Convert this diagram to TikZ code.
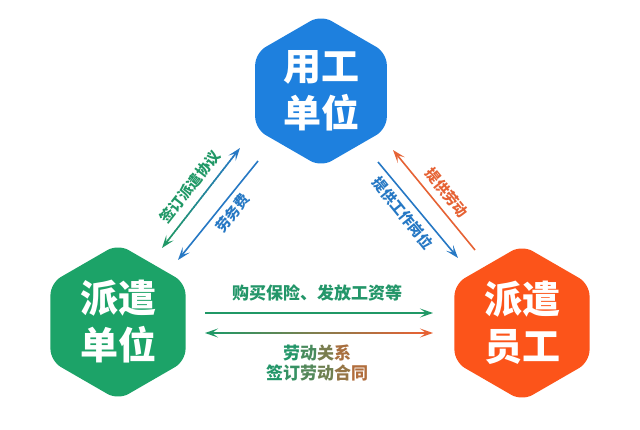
\documentclass[tikz,border=0pt]{standalone}
\usepackage{fontspec}
\newfontfamily\cjk{Noto Sans CJK SC}
\usetikzlibrary{shapes.geometric,arrows.meta,calc}
\definecolor{hexblue}{RGB}{30,128,222}
\definecolor{hexgreen}{RGB}{28,163,104}
\definecolor{hexorange}{RGB}{252,84,26}
\definecolor{ablue}{RGB}{38,120,196}
\definecolor{agreen}{RGB}{32,152,102}
\definecolor{aorange}{RGB}{230,98,52}
\definecolor{tg}{RGB}{35,150,105}
\definecolor{to}{RGB}{225,95,45}
\newcommand\gradseg[4]{%
  \foreach \i in {0,...,39}{%
    \pgfmathtruncatemacro\p{100-\i*100/39}%
    \draw[arr, color=#3!\p!#4] ($(#1)!{\i/40}!(#2)$) -- ($(#1)!{(\i+1.3)/40}!(#2)$);
  }}
\begin{document}
\begin{tikzpicture}[x=1pt,y=1pt,
  hexnode/.style={regular polygon, regular polygon sides=6, shape border rotate=30,
    minimum size=156pt, rounded corners=12pt, inner sep=0pt, text=white, align=center,
    font=\cjk\bfseries\fontsize{38}{47}\selectfont},
  lbl/.style={font=\cjk\bfseries\fontsize{14.5}{16}\selectfont, inner sep=1pt},
  blbl/.style={font=\cjk\bfseries\fontsize{17}{20}\selectfont, inner sep=1pt},
  arr/.style={line width=1.6pt, line cap=butt},
  tipa/.style={-{Stealth[length=13pt,width=9pt,inset=6pt]}}
]
\useasboundingbox (0,0) rectangle (640,429);
\fill[white] (0,0) rectangle (640,429);

% hexagons
\node[hexnode, fill=hexblue, minimum size=152pt] (yg) at (321,338) {用工\\单位};
\node[hexnode, fill=hexgreen] (pq) at (118,107) {派遣\\单位};
\node[hexnode, fill=hexorange] (yy) at (522,106) {派遣\\员工};

% coordinates of arrow ends
\coordinate (l1a) at (240,281);
\coordinate (l1b) at (162,181);
\coordinate (l2a) at (258,268);
\coordinate (l2b) at (178,169);
\coordinate (r1a) at (475,179);
\coordinate (r1b) at (393,279);
\coordinate (r2a) at (378,267);
\coordinate (r2b) at (458,171);
\coordinate (b1a) at (205,116);
\coordinate (b1b) at (433,116);
\coordinate (b2a) at (205,96);
\coordinate (b2b) at (433,96);

% left pair
\coordinate (l1as) at ($(l1a)!8pt!(l1b)$);
\coordinate (l1bs) at ($(l1b)!8pt!(l1a)$);
\gradseg{l1as}{l1bs}{ablue}{agreen}
\draw[arr, ablue, tipa] (l1as) -- (l1a);
\draw[arr, agreen, tipa] (l1bs) -- (l1b);
\draw[arr, ablue, tipa] (l2a) -- (l2b);

% right pair
\draw[arr, aorange, tipa] (r1a) -- (r1b);
\draw[arr, ablue, tipa] (r2a) -- (r2b);

% bottom pair
\draw[arr, agreen, tipa] (b1a) -- (b1b);
\coordinate (b2as) at ($(b2a)!8pt!(b2b)$);
\coordinate (b2bs) at ($(b2b)!8pt!(b2a)$);
\gradseg{b2as}{b2bs}{agreen}{aorange}
\draw[arr, agreen, tipa] (b2as) -- (b2a);
\draw[arr, aorange, tipa] (b2bs) -- (b2b);

% labels
\node[lbl, text=agreen, rotate=52] (t1) at (190,242) {签订派遣协议};
\node[lbl, text=ablue, rotate=52] (t2) at (233,216) {劳务费};
\node[lbl, text=aorange, rotate=-51] (t3) at (447,236) {提供劳动};
\node[lbl, text=ablue, rotate=-51] (t4) at (403,216) {提供工作岗位};
\node[blbl, text=tg] (t5) at (317,136) {购买保险、发放工资等};
\node[blbl] (t6) at (317,76) {\color{tg}劳\color{tg!80!to}动\color{tg!55!to}关\color{tg!30!to}系};
\node[blbl] (t7) at (317,56) {\color{tg}签\color{tg!90!to}订\color{tg!75!to}劳\color{tg!60!to}动\color{tg!40!to}合\color{tg!25!to}同};
\end{tikzpicture}
\end{document}
